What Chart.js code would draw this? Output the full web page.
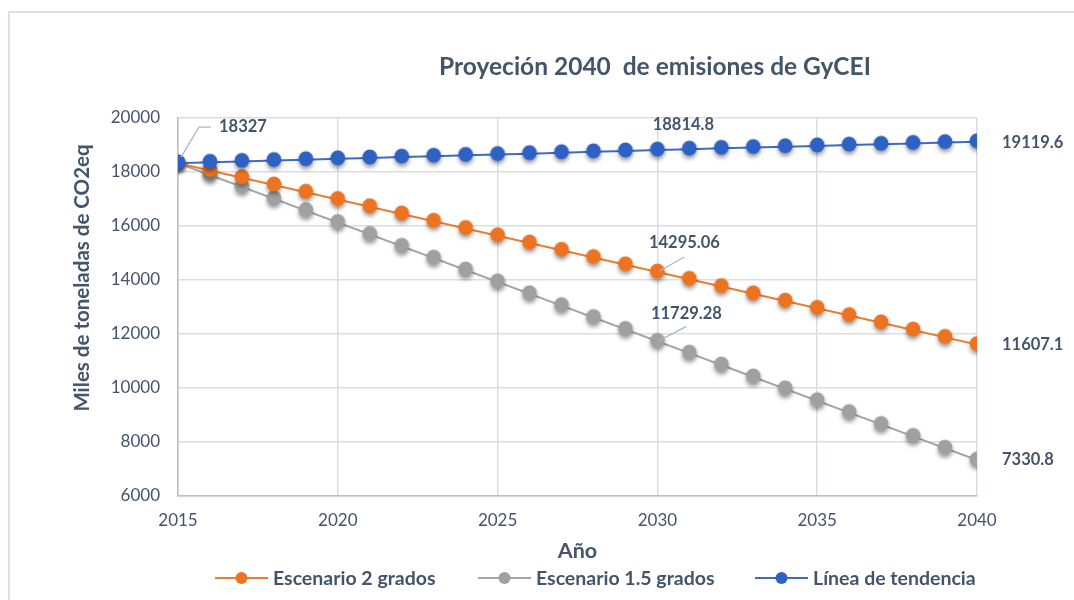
<!DOCTYPE html>
<html>
<head>
<meta charset="utf-8">
<script src="https://cdn.jsdelivr.net/npm/chart.js@4.4.1/dist/chart.umd.min.js"></script>
<style>
  html, body { margin: 0; padding: 0; background: #fff; }
  .frame { position: absolute; left: 8px; top: 11px; width: 1100px; height: 620px; border-left: 2px solid #dde1e7; border-top: 2px solid #dde1e7; }
  .wrap { position: absolute; left: 0; top: 0; width: 1074px; height: 600px; }
</style>
</head>
<body>
<div class="frame"></div>
<div class="wrap"><canvas id="chart"></canvas></div>
<script>
const years = [2015, 2016, 2017, 2018, 2019, 2020, 2021, 2022, 2023, 2024, 2025, 2026, 2027,
  2028, 2029, 2030, 2031, 2032, 2033, 2034, 2035, 2036, 2037, 2038, 2039, 2040];
const escenario2 = [18327, 18058.2, 17789.4, 17520.6, 17251.8, 16983, 16714.2, 16445.4, 16176.6,
  15907.8, 15639, 15370.2, 15101.4, 14832.6, 14563.8, 14295.06, 14026.3, 13757.5, 13488.7,
  13219.9, 12951.1, 12682.3, 12413.5, 12144.7, 11875.9, 11607.1];
const escenario15 = [18327, 17887.2, 17447.3, 17007.5, 16567.6, 16127.8, 15687.9, 15248.1, 14808.2,
  14368.4, 13928.5, 13488.7, 13048.8, 12609, 12169.1, 11729.28, 11289.4, 10849.6, 10409.7,
  9969.9, 9530, 9090.2, 8650.3, 8210.5, 7770.6, 7330.8];
const tendencia = [18327, 18360, 18392, 18424, 18456, 18488, 18520, 18552, 18584, 18616, 18648,
  18680, 18713, 18746, 18780, 18814.8, 18845, 18876, 18906, 18936, 18966, 18996, 19027, 19058,
  19089, 19119.6];
const yTicks = [6000, 8000, 10000, 12000, 14000, 16000, 18000, 20000];
const xTicks = [2015, 2020, 2025, 2030, 2035, 2040];

const TXT = '#44546a';
const FONT = 'Lato, "Open Sans", sans-serif';

// marker images with a soft drop shadow, like the Excel original
function dot(color) {
  const c = document.createElement('canvas');
  c.width = 28; c.height = 28;
  const g = c.getContext('2d');
  g.shadowColor = 'rgba(0,0,0,0.4)';
  g.shadowBlur = 4;
  g.shadowOffsetY = 3;
  g.beginPath();
  g.arc(14, 13, 7.4, 0, Math.PI * 2);
  g.fillStyle = color;
  g.fill();
  return c;
}

const series = [
  { label: 'Escenario 2 grados', values: escenario2, line: '#ed7d31', mark: '#ec7420', order: 1 },
  { label: 'Escenario 1.5 grados', values: escenario15, line: '#a5a5a5', mark: '#a0a0a0', order: 2 },
  { label: 'Línea de tendencia', values: tendencia, line: '#3b6cc9', mark: '#2e61c4', order: 0 },
];

// which points carry a value label: [dataset, index, dx, dy, align, leader]
const labelSpots = [
  [2, 0, 41, -36, 'left', [[3, -6], [21, -36], [33, -36]]],
  [2, 15, 26, -25, 'center', null],
  [0, 15, 27, -29, 'center', [[2, -1], [27, -15]]],
  [1, 15, 29, -28, 'center', [[2, -1], [29, -15]]],
  [2, 25, 25, 1, 'left', null],
  [0, 25, 25, 0, 'left', null],
  [1, 25, 25, 0, 'left', null],
];

const decor = {
  id: 'decor',
  afterDatasetsDraw(chart) {
    const ctx = chart.ctx, a = chart.chartArea;
    ctx.save();
    // value labels
    labelSpots.forEach(([d, i, dx, dy, align, leader]) => {
      const p = chart.getDatasetMeta(d).data[i];
      if (leader) {
        ctx.beginPath();
        ctx.strokeStyle = '#a9b8cb';
        ctx.lineWidth = 1.3;
        leader.forEach(([lx, ly], k) => k ? ctx.lineTo(p.x + lx, p.y + ly) : ctx.moveTo(p.x + lx, p.y + ly));
        ctx.stroke();
      }
      ctx.fillStyle = TXT;
      ctx.font = 'bold 16.5px ' + FONT;
      ctx.textAlign = align;
      ctx.textBaseline = 'middle';
      ctx.fillText(String(series[d].values[i]), p.x + dx, p.y + dy);
    });

    // title
    ctx.fillStyle = TXT;
    ctx.textAlign = 'center';
    ctx.textBaseline = 'middle';
    ctx.font = 'bold 24.5px ' + FONT;
    ctx.fillText('Proyeción 2040  de emisiones de GyCEI', 655, 67);

    // axis titles
    ctx.font = 'bold 21.5px ' + FONT;
    ctx.fillText('Año', (a.left + a.right) / 2, 551);
    ctx.save();
    ctx.translate(82, 278);
    ctx.rotate(-Math.PI / 2);
    ctx.font = 'bold 20.5px ' + FONT;
    ctx.fillText('Miles de toneladas de CO2eq', 0, 0);
    ctx.restore();

    // legend
    ctx.font = 'bold 19.5px ' + FONT;
    ctx.textAlign = 'left';
    const starts = [215, 478, 755];
    series.forEach((s, k) => {
      const x = starts[k], y = 578;
      ctx.beginPath();
      ctx.strokeStyle = s.line;
      ctx.lineWidth = 2;
      ctx.moveTo(x, y); ctx.lineTo(x + 53, y);
      ctx.stroke();
      ctx.beginPath();
      ctx.arc(x + 26.5, y, 6, 0, Math.PI * 2);
      ctx.fillStyle = s.mark;
      ctx.fill();
      ctx.fillStyle = TXT;
      ctx.fillText(s.label, x + 58, y + 1);
    });
    ctx.restore();
  }
};

new Chart(document.getElementById('chart'), {
  type: 'line',
  data: {
    datasets: series.map(s => ({
      label: s.label,
      data: years.map((y, i) => ({ x: y, y: s.values[i] })),
      borderColor: s.line,
      borderWidth: 2,
      pointStyle: dot(s.mark),
      pointRadius: 7,
      order: s.order,
      fill: false,
      tension: 0,
    }))
  },
  options: {
    responsive: true, maintainAspectRatio: false, animation: false,
    layout: { padding: { top: 118, right: 97, left: 0, bottom: 0 } },
    plugins: { legend: { display: false }, title: { display: false }, tooltip: { enabled: false } },
    events: [],
    scales: {
      x: {
        type: 'linear', min: 2015, max: 2040,
        afterBuildTicks: sc => { sc.ticks = xTicks.map(v => ({ value: v })); },
        afterFit: sc => { sc.height = 104; },
        grid: { color: '#d9dee6', lineWidth: 1.5, drawTicks: false },
        border: { color: '#b4bfcf', width: 1.5 },
        ticks: { color: TXT, font: { family: FONT, size: 17 }, padding: 14, callback: v => String(v), maxRotation: 0 },
      },
      y: {
        min: 6000, max: 20000,
        afterBuildTicks: sc => { sc.ticks = yTicks.map(v => ({ value: v })); },
        afterFit: sc => { sc.width = 178; },
        grid: { color: '#d9dee6', lineWidth: 1.5, drawTicks: false },
        border: { color: '#b4bfcf', width: 1.5 },
        ticks: { color: TXT, font: { family: FONT, size: 17 }, padding: 18, callback: v => String(v) },
      }
    }
  },
  plugins: [decor]
});
</script>
</body>
</html>
